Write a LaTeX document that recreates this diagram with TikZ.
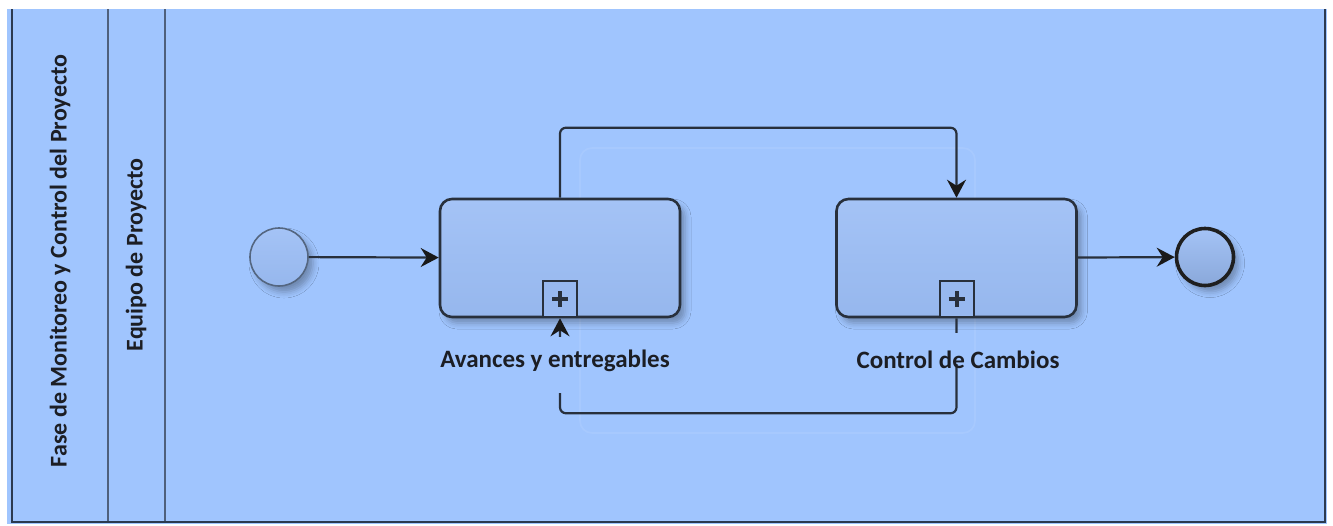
\documentclass[tikz,border=0pt]{standalone}
\usepackage{fontspec}
\setmainfont{Carlito}
\usetikzlibrary{arrows.meta,shadows.blur}

\definecolor{lanebg}{RGB}{160,197,254}
\definecolor{taskA}{RGB}{164,195,246}
\definecolor{taskB}{RGB}{150,183,237}
\definecolor{ink}{RGB}{40,48,60}
\definecolor{startink}{RGB}{84,102,128}
\definecolor{laneline}{RGB}{78,96,124}
\definecolor{poolline}{RGB}{44,58,80}
\definecolor{textc}{RGB}{28,30,36}

\tikzset{
  lanesep/.style={draw=laneline, line width=2.6pt},
  poolborder/.style={draw=poolline, line width=2.4pt},
  softshadow/.style={blur shadow={shadow xshift=5pt, shadow yshift=-6pt,
      shadow blur radius=6pt, shadow opacity=30}},
  task/.style={draw=ink, line width=2.6pt, rounded corners=12pt,
      minimum width=240pt, minimum height=118pt,
      top color=taskA, bottom color=taskB, softshadow},
  submarker/.style={draw=ink, line width=2pt, fill=taskB!90!lanebg,
      minimum width=34pt, minimum height=36pt, inner sep=0pt, anchor=south},
  plussign/.style={draw=ink, line width=4pt},
  startevent/.style={circle, draw=startink, line width=1.6pt,
      minimum size=58pt, inner sep=0pt, top color=taskA, bottom color=taskB, softshadow},
  endevent/.style={circle, draw=black!88, line width=3.6pt,
      minimum size=57pt, inner sep=0pt, top color=taskA, bottom color=taskB!92!black, softshadow},
  flow/.style={draw=ink, line width=2.2pt,
      -{Stealth[length=18pt, width=19pt, inset=6pt, color=black!90]}},
  ghostbox/.style={draw=white, draw opacity=0.08, line width=1.6pt, rounded corners=12pt},
  tasklabel/.style={text=textc, font=\bfseries\fontsize{25}{30}\selectfont, inner sep=0pt},
  lanetext/.style={text=textc, font=\bfseries\fontsize{24}{28}\selectfont, inner sep=0pt, rotate=90},
}

\begin{document}
\begin{tikzpicture}[x=1pt, y=-1pt]
  \useasboundingbox (0,0) rectangle (1333,525);

  % pool and lanes
  \fill[lanebg] (7,9) rectangle (1327,524);
  \draw[lanesep] (108,9) -- (108,522);
  \draw[lanesep] (165,9) -- (165,522);
  \draw[poolborder] (12,9) -- (12,522) -- (1325,522) -- (1325,9);

  \node[lanetext] (pool) at (60,261) {Fase de Monitoreo y Control del Proyecto};
  \node[lanetext] (lane) at (136,255) {Equipo de Proyecto};

  % faint group frame
  \draw[ghostbox] (580,148) rectangle (975,433);

  % events and sub-processes
  \node[startevent] (start) at (279,257) {};
  \node[task] (t1) at (560,258) {};
  \node[task] (t2) at (956.5,258) {};
  \node[endevent] (end) at (1205,257) {};

  \node[submarker] (m1) at (t1.south) {};
  \node[submarker] (m2) at (t2.south) {};
  \foreach \m in {m1,m2}{
    \draw[plussign] (\m.center) ++(-8,0) -- ++(16,0);
    \draw[plussign] (\m.center) ++(0,-8) -- ++(0,16);
  }

  % sequence flows
  \draw[flow] (start) -- (t1);
  \draw[flow] (t2) -- (end);
  \draw[flow, rounded corners=6pt] (t1.north) -- ++(0,-70) -| (t2.north);
  \draw[flow, rounded corners=6pt] (m2.south) -- ++(0,95) -| (m1.south);

  % label backgrounds interrupt the return flow
  \fill[lanebg] (552,337) rectangle (568,393);
  \fill[lanebg] (949,333) rectangle (965,364);

  \node[tasklabel] (l1) at (555,361) {Avances y entregables};
  \node[tasklabel] (l2) at (958,360) {Control de Cambios};
\end{tikzpicture}
\end{document}
